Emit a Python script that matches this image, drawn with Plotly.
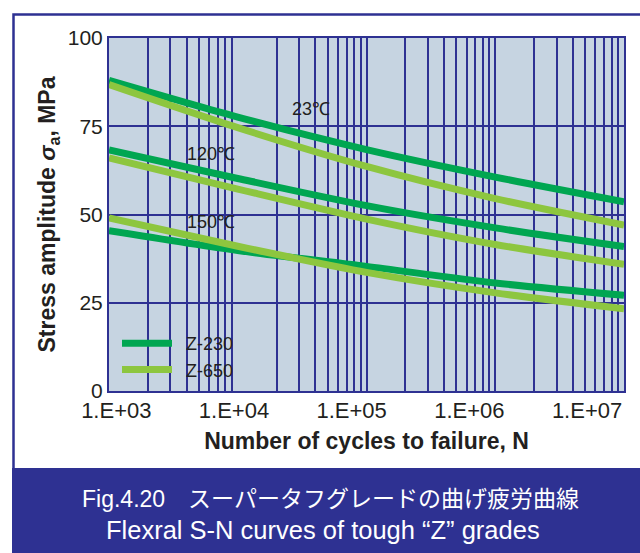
import plotly.graph_objects as go

# ---- data ----
cycles = [1e3, 1e4, 1e5, 1e6, 1e7]
z230_23C = [88.0, 77.6, 68.4, 60.6, 53.6]
z650_23C = [86.8, 74.6, 63.6, 54.5, 47.0]
z230_120C = [68.3, 60.2, 52.5, 46.2, 40.9]
z650_120C = [66.0, 57.2, 48.7, 41.5, 35.9]
z230_150C = [45.4, 39.8, 35.3, 30.6, 27.1]
z650_150C = [49.0, 41.0, 33.6, 27.8, 23.3]

x_tick_vals = [1e3, 1e4, 1e5, 1e6, 1e7]
x_tick_text = ["1.E+03", "1.E+04", "1.E+05", "1.E+06", "1.E+07"]
y_tick_vals = [0, 25, 50, 75, 100]

grade_names = ["Z-230", "Z-650"]
temp_labels = ["23℃", "120℃", "150℃"]

NAVY = "#2E3192"
DARK = "#00A651"
LIGHT = "#8DC63F"
BG = "#C6D4E1"
TXT = "#231F20"
FONT = "Liberation Sans, Arial, Helvetica, sans-serif"

W, H = 640, 553
ML, MR, MT, MB = 109, 16, 38, 162
PW, PH = W - ML - MR, H - MT - MB


def px(xp):
    return (xp - ML) / PW


def py(yp):
    return (H - MB - yp) / PH


fig = go.Figure()
series = [
    (grade_names[0], DARK, [z230_23C, z230_120C, z230_150C]),
    (grade_names[1], LIGHT, [z650_23C, z650_120C, z650_150C]),
]
for name, color, curves in series:
    for i, ys in enumerate(curves):
        fig.add_trace(go.Scatter(
            x=cycles, y=ys, mode="lines", name="\u2002" + name,
            showlegend=(i == 0),
            line=dict(color=color, width=7, shape="spline", smoothing=0.8),
            hoverinfo="skip",
        ))

# vertical grid lines at 1..9 x 10^n (the reference has no line at 1e4)
grid_vals = [k * 10 ** d for d in range(3, 7) for k in range(1, 10)
             if not (d == 4 and k == 1)] + [1e7]

fig.update_layout(
    width=W, height=H,
    margin=dict(l=ML, r=MR, t=MT, b=MB, autoexpand=False),
    paper_bgcolor="white",
    plot_bgcolor=BG,
    font=dict(family=FONT, color=TXT),
    showlegend=True,
    legend=dict(
        x=px(117), y=py(325), xanchor="left", yanchor="top",
        bgcolor="rgba(0,0,0,0)", font=dict(size=18, family=FONT, color=TXT),
        itemwidth=50,
    ),
    xaxis=dict(
        type="log", range=[3, 7], tickmode="array", tickvals=grid_vals,
        showticklabels=False, ticks="", showgrid=True, gridcolor=NAVY,
        gridwidth=1.6, showline=True, linecolor=NAVY, linewidth=2,
        mirror=True, zeroline=False, automargin=False,
    ),
    xaxis2=dict(
        type="log", range=[2.938, 7.314], overlaying="x", anchor="y",
        side="bottom", tickmode="array", tickvals=x_tick_vals,
        ticktext=x_tick_text, showgrid=False, showline=False, ticks="",
        zeroline=False, automargin=False, ticklabelstandoff=4,
        tickfont=dict(size=22, family=FONT, color=TXT),
        title=dict(text="<b>Number of cycles to failure, N</b>",
                   font=dict(size=23, family=FONT, color=TXT),
                   standoff=10),
    ),
    yaxis=dict(
        range=[0, 100], tickmode="array", tickvals=y_tick_vals,
        showgrid=True, gridcolor=NAVY, gridwidth=2, showline=True,
        linecolor=NAVY, linewidth=2, mirror=True, zeroline=False,
        ticks="", ticklabelstandoff=0, automargin=False,
        tickfont=dict(size=21, family=FONT, color=TXT),
        title=dict(text="<b>Stress amplitude <i>σ</i><sub>a</sub>, MPa</b>",
                   font=dict(size=23, family=FONT, color=TXT),
                   standoff=6),
    ),
)

# empty trace so the label axis is drawn
fig.add_trace(go.Scatter(x=[], y=[], xaxis="x2", yaxis="y", showlegend=False,
                         hoverinfo="skip"))

# temperature labels
temp_pos = [(4.571, 80.0), (3.794, 67.2), (3.794, 47.9)]
for txt, (lx, ly) in zip(temp_labels, temp_pos):
    fig.add_annotation(x=lx, y=ly, xref="x", yref="y", text=txt,
                       showarrow=False, font=dict(size=18, family=FONT,
                                                  color=TXT))

# frame and caption band
fig.add_shape(type="rect", xref="paper", yref="paper",
              x0=px(13.5), x1=px(660), y0=py(520), y1=py(14.5),
              line=dict(color=NAVY, width=2.5), fillcolor="rgba(0,0,0,0)",
              layer="above")
fig.add_shape(type="rect", xref="paper", yref="paper",
              x0=px(12), x1=px(660), y0=py(570), y1=py(468),
              line=dict(width=0), fillcolor=NAVY, layer="above")

CAP_FONT = "Liberation Sans, Arial, Noto Sans CJK JP"
fig.add_annotation(xref="paper", yref="paper", x=px(330), y=py(499),
                   text="Fig.4.20　スーパータフグレードの曲げ疲労曲線",
                   showarrow=False, xanchor="center", yanchor="middle",
                   font=dict(size=23, color="white", family=CAP_FONT))
fig.add_annotation(xref="paper", yref="paper", x=px(323), y=py(530),
                   text="Flexral S-N curves of tough “Z” grades",
                   showarrow=False, xanchor="center", yanchor="middle",
                   font=dict(size=25.5, color="white", family=CAP_FONT))

fig.write_html("out.html",
               config={"displayModeBar": False},
               post_script="document.body.style.margin='0px';"
                           "document.documentElement.style.margin='0px';")
